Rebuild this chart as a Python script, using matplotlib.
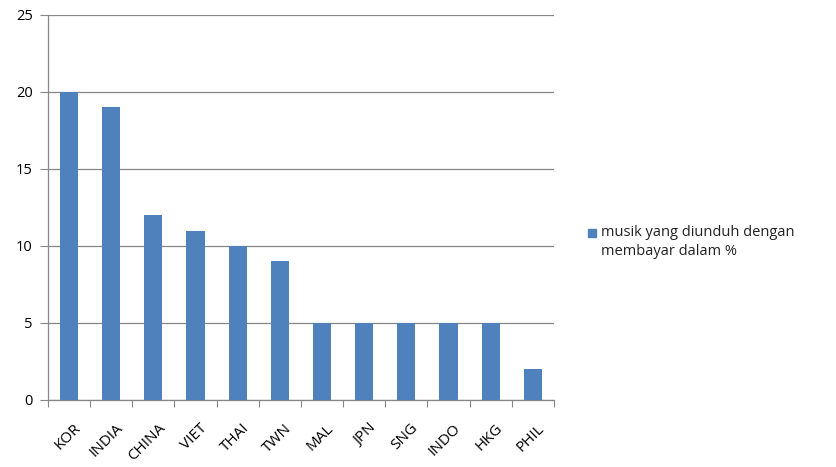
import matplotlib
matplotlib.use("Agg")
import matplotlib.pyplot as plt
import numpy as np

# Persentase musik yang diunduh dengan membayar, per negara
countries = ["KOR", "INDIA", "CHINA", "VIET", "THAI", "TWN",
             "MAL", "JPN", "SNG", "INDO", "HKG", "PHIL"]
paid_pct = [20, 19, 12, 11, 10, 9, 5, 5, 5, 5, 5, 2]
series_name = "musik yang diunduh dengan\nmembayar dalam %"

BAR = "#4f81bd"
LINE = "#868686"
plt.rcParams["font.family"] = ["Open Sans", "DejaVu Sans"]

fig = plt.figure(figsize=(8.37, 4.67), dpi=100)
ax = fig.add_axes([0.0573, 0.1435, 0.6045, 0.8245])

x = np.arange(len(countries))
ax.bar(x, paid_pct, width=0.43, color=BAR, zorder=3)

ax.set_xlim(-0.5, len(countries) - 0.5)
ax.set_ylim(0, 25)
ax.set_yticks(range(0, 26, 5))
ax.grid(axis="y", color=LINE, linewidth=0.9, zorder=0)
ax.tick_params(axis="y", length=6, color=LINE, labelsize=10.5, pad=5)

# Excel-style category ticks sit between the bars
ax.set_xticks(np.arange(-0.5, len(countries), 1.0), minor=False)
ax.set_xticklabels([])
ax.tick_params(axis="x", which="major", length=5, color=LINE)
ax.set_xticks(x + 0.1, minor=True)
ax.set_xticklabels(countries, minor=True, rotation=45, ha="right",
                   rotation_mode="anchor", fontsize=11)
ax.tick_params(axis="x", which="minor", length=0, pad=15)

for s in ["top", "right"]:
    ax.spines[s].set_visible(False)
for s in ["left", "bottom"]:
    ax.spines[s].set_color(LINE)
    ax.spines[s].set_linewidth(0.9)

# legend square plus two-line label on the right
fig.patches.append(plt.Rectangle((588 / 837, 1 - 237 / 467), 8 / 837, 8 / 467,
                                 transform=fig.transFigure, color=BAR))
fig.text(601 / 837, 1 - 242 / 467, series_name, fontsize=10.5, va="center",
         ha="left", linespacing=1.45, color="#222222")

fig.savefig("out.png", dpi=100)
